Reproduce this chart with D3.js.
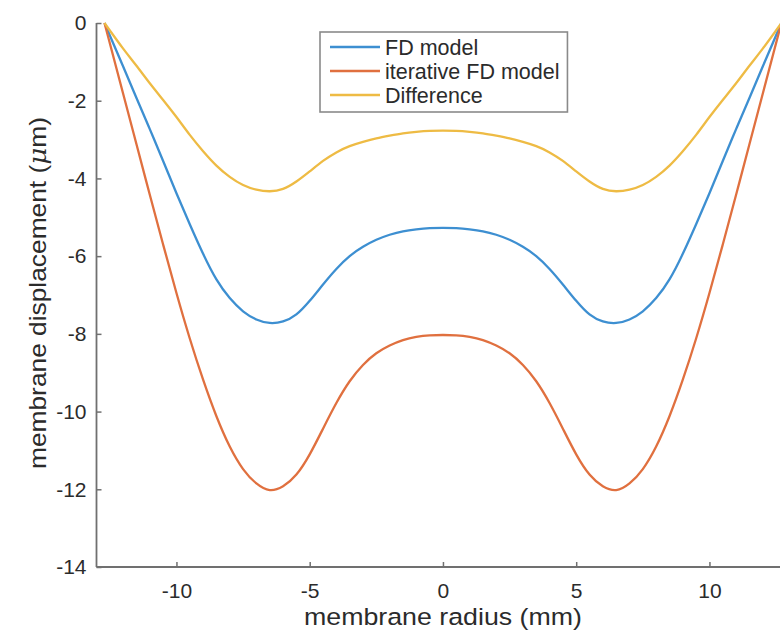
<!DOCTYPE html>
<html>
<head>
<meta charset="utf-8">
<script src="https://cdn.jsdelivr.net/npm/d3@7"></script>
<style>
  html, body { margin: 0; padding: 0; background: #fff; }
  svg { display: block; }
  text { font-family: "Liberation Sans", Arial, Helvetica, sans-serif; }
</style>
</head>
<body>
<svg id="chart" width="780" height="632"></svg>
<script>
// ---- data ----
const radius = [-12.7, -12, -11.5, -11, -10.5, -10, -9.5, -9, -8.5, -8, -7.5, -7, -6.5, -6, -5.5, -5, -4.5, -4, -3.5, -3, -2.5, -2, -1.5, -1, -0.5, 0,
                0.5, 1, 1.5, 2, 2.5, 3, 3.5, 4, 4.5, 5, 5.5, 6, 6.5, 7, 7.5, 8, 8.5, 9, 9.5, 10, 10.5, 11, 11.5, 12, 12.7];
const fdModel = [0, -1.12, -1.93, -2.73, -3.55, -4.38, -5.18, -5.94, -6.6, -7.08, -7.42, -7.63, -7.72, -7.68, -7.5, -7.15, -6.73, -6.33, -6.0, -5.76, -5.58, -5.45, -5.36, -5.31, -5.28, -5.27,
                 -5.28, -5.31, -5.36, -5.45, -5.58, -5.76, -6.0, -6.33, -6.73, -7.15, -7.5, -7.68, -7.72, -7.63, -7.42, -7.08, -6.6, -5.94, -5.18, -4.38, -3.55, -2.73, -1.93, -1.12, 0];
const iterativeFd = [0, -1.82, -3.12, -4.42, -5.7, -6.95, -8.12, -9.18, -10.12, -10.9, -11.48, -11.85, -12.02, -11.92, -11.62, -11.1, -10.44, -9.78, -9.22, -8.8, -8.5, -8.3, -8.16, -8.08, -8.04, -8.03,
                     -8.04, -8.08, -8.16, -8.3, -8.5, -8.8, -9.22, -9.78, -10.44, -11.1, -11.62, -11.92, -12.02, -11.85, -11.48, -10.9, -10.12, -9.18, -8.12, -6.95, -5.7, -4.42, -3.12, -1.82, 0];
const difference = [0, -0.66, -1.1, -1.55, -1.98, -2.42, -2.88, -3.3, -3.67, -3.96, -4.17, -4.29, -4.33, -4.27, -4.08, -3.82, -3.55, -3.33, -3.17, -3.06, -2.97, -2.9, -2.84, -2.8, -2.775, -2.77,
                    -2.775, -2.8, -2.84, -2.9, -2.97, -3.06, -3.17, -3.33, -3.55, -3.82, -4.08, -4.27, -4.33, -4.29, -4.17, -3.96, -3.67, -3.3, -2.88, -2.42, -1.98, -1.55, -1.1, -0.66, 0];
const seriesNames = ["FD model", "iterative FD model", "Difference"];
const seriesColors = ["#3d8fd1", "#e0703f", "#eebb44"];
const xTicks = [-10, -5, 0, 5, 10];
const yTicks = [0, -2, -4, -6, -8, -10, -12, -14];
const xDomain = [-13, 13];
const yDomain = [-14, 0];

// ---- layout ----
const svg = d3.select("#chart");
const plotLeft = 96.5, plotTop = 23, plotBottom = 567;
const pxPerUnit = 26.65;
const x = d3.scaleLinear().domain(xDomain).range([plotLeft, plotLeft + (xDomain[1] - xDomain[0]) * pxPerUnit]);
const y = d3.scaleLinear().domain(yDomain).range([plotBottom, plotTop]);

const axisColor = "#707070";
const textColor = "#2b2b2b";
const fmt = d => (d < 0 ? "-" : "") + Math.abs(d);

// curves
const series = [fdModel, iterativeFd, difference];
const line = d3.line().x(d => x(d[0])).y(d => y(d[1])).curve(d3.curveNatural);
series.forEach((vals, i) => {
  svg.append("path")
    .datum(radius.map((r, k) => [r, vals[k]]))
    .attr("d", line)
    .attr("fill", "none")
    .attr("stroke", seriesColors[i])
    .attr("stroke-width", 2.3)
    .attr("stroke-linejoin", "round");
});

// axes
const xAxis = d3.axisBottom(x).tickValues(xTicks).tickSize(-5).tickPadding(16).tickFormat(fmt);
const yAxis = d3.axisLeft(y).tickValues(yTicks).tickSize(-5).tickPadding(10).tickFormat(fmt);

const gx = svg.append("g").attr("transform", `translate(0,${plotBottom})`).call(xAxis);
const gy = svg.append("g").attr("transform", `translate(${plotLeft},0)`).call(yAxis);
[gx, gy].forEach(g => {
  g.select(".domain").attr("stroke", axisColor).attr("stroke-width", 1.8);
  g.selectAll(".tick line").attr("stroke", axisColor).attr("stroke-width", 1.5);
  g.selectAll(".tick text").attr("fill", textColor).attr("font-size", 21)
    .attr("font-family", "'Liberation Sans', Arial, sans-serif");
});
gx.select(".domain").attr("d", `M${plotLeft},0H${x(xDomain[1])}`);
gy.select(".domain").attr("d", `M0,${plotBottom}V${plotTop}`);

// axis labels
svg.append("text")
  .attr("x", 443).attr("y", 625)
  .attr("text-anchor", "middle")
  .attr("font-size", 24.5).attr("fill", textColor)
  .attr("textLength", 278).attr("lengthAdjust", "spacingAndGlyphs")
  .text("membrane radius (mm)");

const yl = svg.append("text")
  .attr("transform", `translate(46,293) rotate(-90)`)
  .attr("text-anchor", "middle")
  .attr("font-size", 24.5).attr("fill", textColor)
  .attr("textLength", 352).attr("lengthAdjust", "spacingAndGlyphs");
yl.append("tspan").text("membrane displacement (");
yl.append("tspan").attr("font-style", "italic").attr("font-family", "'DejaVu Serif', serif").text("\u03bc");
yl.append("tspan").text("m)");

// legend
const lg = svg.append("g");
const lgX = 320, lgY = 32, lgH = 80;
const rect = lg.append("rect").attr("x", lgX).attr("y", lgY).attr("height", lgH)
  .attr("fill", "#fff").attr("stroke", "#8a8a8a").attr("stroke-width", 1.6);
let maxW = 0;
seriesNames.forEach((name, i) => {
  const cy = 47 + i * 24;
  lg.append("line").attr("x1", 330).attr("x2", 380).attr("y1", cy).attr("y2", cy)
    .attr("stroke", seriesColors[i]).attr("stroke-width", 2.4);
  const t = lg.append("text").attr("x", 385).attr("y", cy).attr("dy", "0.36em")
    .attr("font-size", 21.5).attr("fill", textColor).text(name);
  maxW = Math.max(maxW, t.node().getComputedTextLength());
});
rect.attr("width", 385 + maxW + 8 - lgX);
</script>
</body>
</html>
